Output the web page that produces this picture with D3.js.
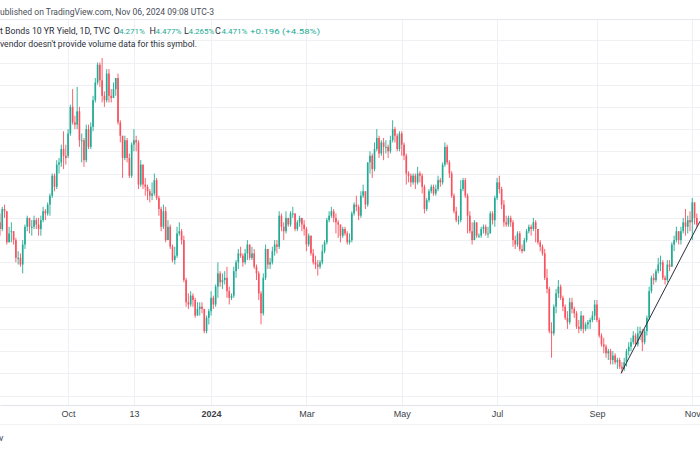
<!DOCTYPE html>
<html>
<head>
<meta charset="utf-8">
<script src="https://cdn.jsdelivr.net/npm/d3@7"></script>
<style>
html, body { margin: 0; padding: 0; background: #fff; overflow: hidden; }
svg { display: block; font-family: Roboto, "Liberation Sans", sans-serif; }
</style>
</head>
<body>
<div id="chart"></div>
<script>
// daily candles, [open, high, low, close] in %, one array per month
var aug23 = [
	[4.28,4.32,4.22,4.25],[4.25,4.35,4.24,4.34],[4.34,4.36,4.30,4.33],[4.33,4.33,4.18,4.19],
	[4.19,4.26,4.19,4.23],[4.24,4.28,4.19,4.24],[4.24,4.24,4.18,4.20],[4.20,4.21,4.10,4.12],
	[4.12,4.15,4.09,4.12],[4.12,4.14,4.08,4.09]
];
var sep23 = [
	[4.09,4.20,4.05,4.18],[4.18,4.27,4.16,4.26],[4.26,4.31,4.24,4.30],[4.30,4.30,4.23,4.26],
	[4.26,4.29,4.22,4.26],[4.26,4.31,4.25,4.29],[4.29,4.30,4.25,4.27],[4.27,4.30,4.22,4.25],
	[4.25,4.31,4.22,4.29],[4.29,4.35,4.28,4.33],[4.33,4.34,4.29,4.32],[4.32,4.37,4.31,4.36],
	[4.36,4.41,4.31,4.40],[4.40,4.50,4.39,4.49],[4.49,4.50,4.42,4.44],[4.44,4.56,4.43,4.54],
	[4.54,4.57,4.50,4.55],[4.55,4.63,4.53,4.61],[4.61,4.69,4.52,4.58],[4.58,4.63,4.54,4.57]
];
var oct23 = [
	[4.58,4.70,4.57,4.68],[4.68,4.81,4.67,4.80],[4.80,4.88,4.72,4.73],[4.73,4.76,4.70,4.72],
	[4.72,4.89,4.70,4.78],[4.78,4.80,4.62,4.65],[4.65,4.68,4.55,4.65],[4.65,4.66,4.53,4.56],
	[4.56,4.72,4.55,4.70],[4.70,4.72,4.61,4.62],[4.62,4.73,4.61,4.71],[4.71,4.85,4.69,4.83],
	[4.83,4.93,4.82,4.91],[4.91,5.00,4.90,4.99],[4.99,5.00,4.89,4.92],[4.92,5.02,4.82,4.85],
	[4.85,4.87,4.80,4.83],[4.83,4.97,4.82,4.95],[4.95,4.97,4.82,4.85],[4.85,4.88,4.82,4.84],
	[4.84,4.91,4.84,4.88],[4.88,4.93,4.85,4.93]
];
var nov23 = [
	[4.93,4.95,4.72,4.73],[4.73,4.74,4.64,4.67],[4.67,4.67,4.48,4.57],[4.57,4.67,4.56,4.65],
	[4.65,4.66,4.55,4.57],[4.57,4.59,4.48,4.49],[4.49,4.64,4.48,4.63],[4.63,4.70,4.60,4.65],
	[4.65,4.67,4.60,4.64],[4.64,4.65,4.43,4.45],[4.45,4.56,4.44,4.54],[4.54,4.54,4.43,4.45],
	[4.45,4.48,4.40,4.44],[4.44,4.45,4.38,4.42],[4.42,4.43,4.37,4.40],[4.40,4.46,4.38,4.41],
	[4.41,4.50,4.40,4.47],[4.47,4.48,4.38,4.39],[4.39,4.40,4.31,4.34],[4.34,4.35,4.24,4.26],
	[4.26,4.36,4.25,4.33]
];
var dec23 = [
	[4.33,4.35,4.19,4.20],[4.20,4.29,4.20,4.26],[4.26,4.27,4.16,4.17],[4.17,4.18,4.10,4.11],
	[4.11,4.17,4.09,4.13],[4.13,4.26,4.12,4.23],[4.23,4.28,4.22,4.24],[4.24,4.25,4.18,4.20],
	[4.20,4.22,4.01,4.02],[4.02,4.03,3.90,3.92],[3.92,3.96,3.89,3.91],[3.91,3.97,3.90,3.95],
	[3.95,3.96,3.90,3.93],[3.93,3.94,3.85,3.86],[3.86,3.92,3.86,3.89],[3.89,3.92,3.86,3.90],
	[3.90,3.92,3.87,3.89],[3.89,3.89,3.78,3.79],[3.79,3.86,3.78,3.85],[3.85,3.89,3.82,3.88]
];
var jan24 = [
	[3.88,3.97,3.86,3.94],[3.94,3.95,3.89,3.91],[3.91,4.00,3.90,3.99],[3.99,4.10,3.94,4.05],
	[4.05,4.06,3.99,4.01],[4.01,4.05,3.98,4.02],[4.02,4.06,4.00,4.03],[4.03,4.08,3.94,3.97],
	[3.97,3.99,3.91,3.94],[3.94,3.96,3.93,3.95],[3.95,4.08,3.94,4.06],[4.06,4.11,4.03,4.10],
	[4.10,4.16,4.07,4.14],[4.14,4.17,4.12,4.13],[4.13,4.14,4.08,4.10],[4.10,4.16,4.09,4.14],
	[4.14,4.20,4.11,4.18],[4.18,4.18,4.11,4.12],[4.12,4.17,4.11,4.14],[4.14,4.16,4.07,4.08],
	[4.08,4.09,4.02,4.05],[4.05,4.06,3.93,3.96]
];
var feb24 = [
	[3.96,3.97,3.82,3.87],[3.87,4.05,3.86,4.03],[4.03,4.18,4.02,4.16],[4.16,4.16,4.07,4.09],
	[4.09,4.12,4.07,4.10],[4.10,4.17,4.09,4.15],[4.15,4.20,4.13,4.18],[4.18,4.20,4.14,4.17],
	[4.17,4.33,4.16,4.31],[4.31,4.32,4.24,4.26],[4.26,4.28,4.20,4.24],[4.24,4.33,4.23,4.30],
	[4.30,4.30,4.26,4.27],[4.27,4.33,4.26,4.32],[4.32,4.35,4.30,4.32],[4.32,4.32,4.24,4.25],
	[4.25,4.29,4.24,4.28],[4.28,4.31,4.26,4.30],[4.30,4.30,4.24,4.27],[4.27,4.29,4.22,4.25]
];
var mar24 = [
	[4.25,4.26,4.15,4.18],[4.18,4.23,4.17,4.22],[4.22,4.22,4.13,4.14],[4.14,4.16,4.09,4.10],
	[4.10,4.13,4.07,4.09],[4.09,4.11,4.04,4.08],[4.08,4.11,4.07,4.10],[4.10,4.18,4.09,4.15],
	[4.15,4.20,4.14,4.19],[4.19,4.30,4.18,4.29],[4.29,4.33,4.28,4.31],[4.31,4.35,4.30,4.33],
	[4.33,4.34,4.28,4.30],[4.30,4.32,4.23,4.28],[4.28,4.29,4.21,4.27],[4.27,4.27,4.19,4.22],
	[4.22,4.26,4.21,4.25],[4.25,4.26,4.22,4.23],[4.23,4.24,4.18,4.19],[4.19,4.23,4.18,4.20]
];
var apr24 = [
	[4.20,4.33,4.19,4.32],[4.32,4.37,4.31,4.36],[4.36,4.40,4.33,4.35],[4.35,4.36,4.29,4.31],
	[4.31,4.42,4.30,4.40],[4.40,4.45,4.39,4.42],[4.42,4.42,4.34,4.36],[4.36,4.55,4.35,4.55],
	[4.55,4.60,4.50,4.58],[4.58,4.59,4.48,4.52],[4.52,4.64,4.51,4.61],[4.61,4.70,4.60,4.66],
	[4.66,4.67,4.57,4.59],[4.59,4.65,4.58,4.64],[4.64,4.66,4.56,4.62],[4.62,4.65,4.59,4.62],
	[4.62,4.63,4.57,4.60],[4.60,4.67,4.59,4.65],[4.65,4.74,4.64,4.70],[4.70,4.71,4.64,4.67],
	[4.67,4.68,4.60,4.61],[4.61,4.69,4.60,4.68]
];
var may24 = [
	[4.68,4.69,4.58,4.63],[4.63,4.64,4.56,4.58],[4.58,4.59,4.45,4.50],[4.50,4.51,4.46,4.49],
	[4.49,4.50,4.44,4.46],[4.46,4.50,4.45,4.49],[4.49,4.50,4.43,4.46],[4.46,4.53,4.45,4.50],
	[4.50,4.51,4.46,4.49],[4.49,4.50,4.41,4.44],[4.44,4.45,4.32,4.34],[4.34,4.39,4.33,4.38],
	[4.38,4.43,4.37,4.42],[4.42,4.45,4.41,4.44],[4.44,4.45,4.40,4.41],[4.41,4.45,4.40,4.43],
	[4.43,4.49,4.42,4.47],[4.47,4.48,4.44,4.46],[4.46,4.55,4.45,4.54],[4.54,4.64,4.53,4.62],
	[4.62,4.63,4.54,4.55],[4.55,4.56,4.48,4.50]
];
var jun24 = [
	[4.50,4.51,4.39,4.40],[4.40,4.41,4.32,4.33],[4.33,4.35,4.28,4.29],[4.29,4.31,4.27,4.29],
	[4.29,4.47,4.28,4.43],[4.43,4.48,4.42,4.47],[4.47,4.48,4.39,4.40],[4.40,4.41,4.23,4.31],
	[4.31,4.33,4.23,4.24],[4.24,4.28,4.18,4.20],[4.20,4.29,4.20,4.28],[4.28,4.28,4.21,4.22],
	[4.22,4.23,4.21,4.22],[4.22,4.26,4.21,4.25],[4.25,4.27,4.23,4.26],[4.26,4.27,4.22,4.23],
	[4.23,4.26,4.21,4.23],[4.23,4.33,4.23,4.32],[4.32,4.33,4.27,4.29],[4.29,4.40,4.26,4.39]
];
var jul24 = [
	[4.39,4.48,4.38,4.46],[4.46,4.49,4.41,4.43],[4.43,4.44,4.34,4.36],[4.36,4.38,4.26,4.28],
	[4.28,4.31,4.26,4.27],[4.27,4.31,4.26,4.30],[4.30,4.31,4.26,4.28],[4.28,4.29,4.17,4.20],
	[4.20,4.22,4.16,4.18],[4.18,4.24,4.17,4.23],[4.23,4.24,4.15,4.16],[4.16,4.18,4.14,4.15],
	[4.15,4.21,4.15,4.20],[4.20,4.25,4.19,4.24],[4.24,4.27,4.23,4.26],[4.26,4.27,4.22,4.25],
	[4.25,4.30,4.24,4.28],[4.28,4.29,4.19,4.25],[4.25,4.25,4.18,4.19],[4.19,4.20,4.15,4.17],
	[4.17,4.18,4.13,4.14],[4.14,4.16,4.02,4.03]
];
var aug24 = [
	[4.03,4.07,3.96,3.98],[3.98,3.99,3.78,3.79],[3.79,3.83,3.67,3.78],[3.78,3.91,3.77,3.90],
	[3.90,3.98,3.87,3.96],[3.96,4.02,3.94,3.99],[3.99,4.00,3.93,3.94],[3.94,3.95,3.88,3.90],
	[3.90,3.91,3.84,3.85],[3.85,3.88,3.80,3.83],[3.83,3.94,3.82,3.92],[3.92,3.94,3.87,3.89],
	[3.89,3.90,3.85,3.87],[3.87,3.88,3.80,3.81],[3.81,3.84,3.78,3.80],[3.80,3.88,3.79,3.86],
	[3.86,3.86,3.78,3.80],[3.80,3.83,3.79,3.82],[3.82,3.84,3.80,3.83],[3.83,3.85,3.80,3.84],
	[3.84,3.88,3.83,3.86],[3.86,3.93,3.84,3.91]
];
var sep24 = [
	[3.91,3.93,3.83,3.84],[3.84,3.85,3.76,3.77],[3.77,3.78,3.72,3.73],[3.73,3.76,3.69,3.72],
	[3.72,3.73,3.67,3.69],[3.69,3.71,3.66,3.70],[3.70,3.71,3.64,3.66],[3.66,3.70,3.64,3.68],
	[3.68,3.69,3.64,3.65],[3.65,3.67,3.62,3.66],[3.66,3.67,3.62,3.63],[3.63,3.65,3.60,3.62],
	[3.62,3.67,3.61,3.65],[3.65,3.71,3.63,3.70],[3.70,3.74,3.68,3.72],[3.72,3.76,3.70,3.74],
	[3.74,3.79,3.73,3.77],[3.77,3.78,3.72,3.73],[3.73,3.81,3.72,3.78],[3.78,3.81,3.75,3.79]
];
var oct24 = [
	[3.79,3.80,3.70,3.74],[3.74,3.80,3.73,3.79],[3.79,3.86,3.77,3.85],[3.85,3.99,3.84,3.97],
	[3.97,4.04,3.96,4.03],[4.03,4.05,4.00,4.02],[4.02,4.07,4.01,4.06],[4.06,4.12,4.05,4.09],
	[4.09,4.13,4.06,4.10],[4.10,4.11,4.02,4.03],[4.03,4.04,4.00,4.02],[4.02,4.11,4.01,4.09],
	[4.09,4.11,4.06,4.08],[4.08,4.19,4.08,4.18],[4.18,4.22,4.15,4.20],[4.20,4.26,4.19,4.24],
	[4.24,4.24,4.18,4.20],[4.20,4.26,4.18,4.24],[4.24,4.30,4.23,4.28],[4.28,4.34,4.22,4.26],
	[4.26,4.31,4.23,4.29],[4.29,4.33,4.24,4.28]
];
var nov24 = [
	[4.28,4.39,4.20,4.37],[4.37,4.37,4.27,4.30],[4.30,4.32,4.26,4.27]
];

// time axis: bar index of each label
var tickIndex = [30, 59, 93, 135, 177, 219, 263, 305];
var tickLabels = ["Oct", "13", "2024", "Mar", "May", "Jul", "Sep", "Nov"];

// drawn trend line, [bar index, yield]
var trendLine = [[273.6, 3.60], [308.4, 4.285]];

// legend texts
var publishedText = "ublished on TradingView.com, Nov 06, 2024 09:08 UTC-3";
var symbolText = "t Bonds 10 YR Yield, 1D, TVC";
var ohlcLabels = ["O", "H", "L", "C"];
var ohlcValues = ["4.271%", "4.477%", "4.265%", "4.471%"];
var changeText = "+0.196 (+4.58%)";
var volumeText = "vendor doesn't provide volume data for this symbol.";

var layout = { w: 700, h: 450, top: 19, axisY: 405 };
var upColor = "#22ab94", downColor = "#f7525f";

var candles = [].concat(aug23, sep23, oct23, nov23, dec23, jan24, feb24, mar24, apr24,
		may24, jun24, jul24, aug24, sep24, oct24, nov24)
	.map(function(d, i){ return { i: i, o: d[0], h: d[1], l: d[2], c: d[3] }; });

var svg = d3.select("#chart").append("svg")
	.attr("width", layout.w)
	.attr("height", layout.h);

var xScale = d3.scaleLinear().domain([0, 308.4]).range([0, layout.w]),
	yScale = d3.scaleLinear().domain([3.5, 5.0]).range([395.5, 62.5]);

var step = xScale(1) - xScale(0),
	bodyW = step * 0.72;

// grid
var grid = svg.append("g").attr("class", "grid");
grid.selectAll("line.h")
	.data(d3.range(35, 52).map(function(v){ return v / 10; }))
	.enter().append("line")
	.attr("class", "h")
	.attr("x1", 0).attr("x2", layout.w)
	.attr("y1", function(d){ return Math.round(yScale(d)) + 0.5; })
	.attr("y2", function(d){ return Math.round(yScale(d)) + 0.5; })
	.style("stroke", "#eef0f4");
grid.selectAll("line.v")
	.data(tickIndex)
	.enter().append("line")
	.attr("class", "v")
	.attr("x1", function(d){ return Math.round(xScale(d)) + 0.5; })
	.attr("x2", function(d){ return Math.round(xScale(d)) + 0.5; })
	.attr("y1", layout.top).attr("y2", layout.axisY)
	.style("stroke", "#eef0f4");

svg.append("line")
	.attr("x1", 0).attr("x2", layout.w)
	.attr("y1", layout.top + 0.5).attr("y2", layout.top + 0.5)
	.style("stroke", "#e6e8ee");

// candles
var bars = svg.append("g").attr("class", "candles")
	.selectAll("g")
	.data(candles)
	.enter().append("g")
	.style("fill", function(d){ return d.c >= d.o ? upColor : downColor; })
	.style("stroke", function(d){ return d.c >= d.o ? upColor : downColor; });

bars.append("line")
	.attr("x1", function(d){ return xScale(d.i); })
	.attr("x2", function(d){ return xScale(d.i); })
	.attr("y1", function(d){ return yScale(d.h); })
	.attr("y2", function(d){ return yScale(d.l); })
	.style("stroke-width", 0.9);

bars.append("rect")
	.attr("x", function(d){ return xScale(d.i) - bodyW / 2; })
	.attr("width", bodyW)
	.attr("y", function(d){ return yScale(Math.max(d.o, d.c)); })
	.attr("height", function(d){ return Math.max(1, Math.abs(yScale(d.o) - yScale(d.c))); })
	.style("stroke", "none");

// trend line
svg.append("path")
	.datum(trendLine)
	.attr("d", d3.line()
		.x(function(d){ return xScale(d[0]); })
		.y(function(d){ return yScale(d[1]); }))
	.style("fill", "none")
	.style("stroke", "#2a2e39")
	.style("stroke-width", 1);

// time axis
var xAxis = svg.append("g")
	.attr("class", "x-axis")
	.attr("transform", "translate(0," + layout.axisY + ")")
	.call(d3.axisBottom(xScale)
		.tickValues(tickIndex)
		.tickFormat(function(d, i){ return tickLabels[i]; })
		.tickSize(0)
		.tickPadding(6));
xAxis.select(".domain").style("stroke", "#e0e3eb");
xAxis.selectAll("text")
	.style("font-size", "9px")
	.style("fill", "#3b3f4a")
	.style("font-weight", function(d, i){ return tickLabels[i] == "2024" ? "bold" : "normal"; });

svg.append("line")
	.attr("x1", 0).attr("x2", layout.w)
	.attr("y1", 424.5).attr("y2", 424.5)
	.style("stroke", "#f0f2f5");

svg.append("text")
	.attr("x", -1).attr("y", 441)
	.style("font-size", "9px")
	.style("fill", "#3b3f4a")
	.text("v");

// legend
var legend = svg.append("g").attr("class", "legend").style("font-size", "9px");
legend.append("text")
	.attr("x", 0).attr("y", 15)
	.attr("textLength", 214).attr("lengthAdjust", "spacingAndGlyphs")
	.style("fill", "#4a4e59")
	.text(publishedText);

legend.append("text")
	.attr("x", 0).attr("y", 34)
	.attr("textLength", 110).attr("lengthAdjust", "spacingAndGlyphs")
	.style("fill", "#2a2e39")
	.text(symbolText);

var ohlcX = [113.5, 149.5, 184, 215],
	valueX = [119, 155.5, 188.5, 221.5];
ohlcLabels.forEach(function(lab, i){
	legend.append("text")
		.attr("x", ohlcX[i]).attr("y", 34)
		.style("fill", "#2a2e39")
		.text(lab);
	legend.append("text")
		.attr("x", valueX[i]).attr("y", 34)
		.style("font-size", "8px")
		.style("fill", upColor)
		.text(ohlcValues[i]);
});
legend.append("text")
	.attr("x", 250).attr("y", 34)
	.attr("textLength", 70).attr("lengthAdjust", "spacingAndGlyphs")
	.style("font-size", "8px")
	.style("fill", upColor)
	.text(changeText);

legend.append("text")
	.attr("x", 0).attr("y", 47)
	.attr("textLength", 197).attr("lengthAdjust", "spacingAndGlyphs")
	.style("fill", "#2a2e39")
	.text(volumeText);
</script>
</body>
</html>
